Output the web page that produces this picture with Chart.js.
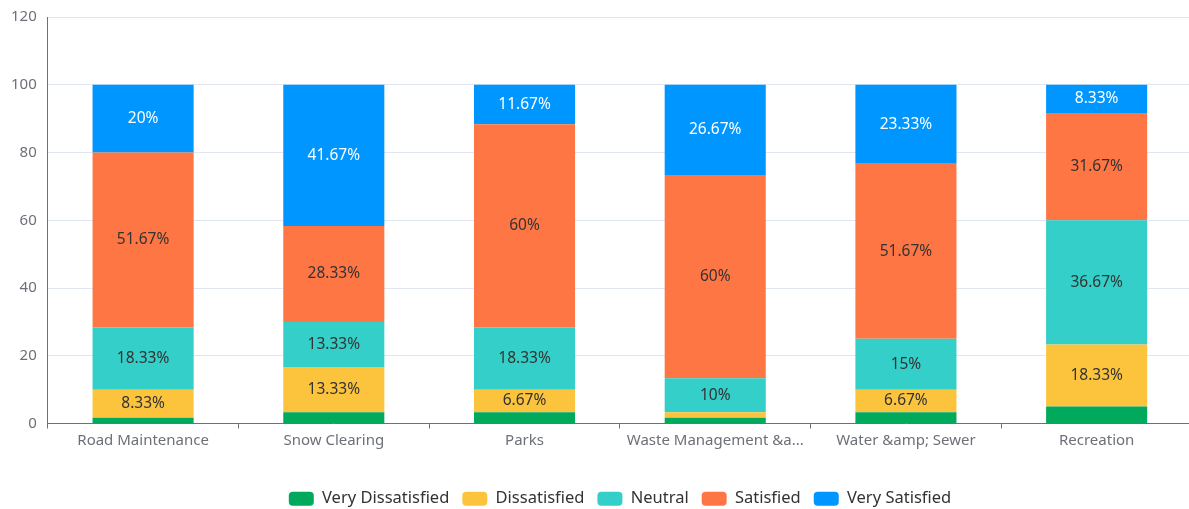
<!DOCTYPE html>
<html>
<head>
<meta charset="utf-8">
<script src="https://cdn.jsdelivr.net/npm/chart.js@4/dist/chart.umd.min.js"></script>
<style>
  html, body { margin: 0; padding: 0; background: #fff; overflow: hidden; }
  #wrap { width: 1189px; height: 509px; overflow: hidden; }
</style>
</head>
<body>
<div id="wrap"><canvas id="chart" width="1240" height="509"></canvas></div>
<script>
// categories (labels kept as shown on the chart)
const categories = ['Road Maintenance', 'Snow Clearing', 'Parks', 'Waste Management &a...', 'Water &amp; Sewer', 'Recreation'];

// percentage of answers per category
const veryDissatisfied = [1.67, 3.33, 3.33, 1.67, 3.33, 5];
const dissatisfied     = [8.33, 13.33, 6.67, 1.67, 6.67, 18.33];
const neutral          = [18.33, 13.33, 18.33, 10, 15, 36.67];
const satisfied        = [51.67, 28.33, 60, 60, 51.67, 31.67];
const verySatisfied    = [20, 41.67, 11.67, 26.67, 23.33, 8.33];

const yTicks = [0, 20, 40, 60, 80, 100, 120];

const axisGray = '#6E7079';
const fontFamily = '"Noto Sans", "Open Sans", sans-serif';

function ds(label, data, color, textColor) {
    return {
        label: label,
        data: data,
        backgroundColor: color,
        borderWidth: 0,
        textColor: textColor
    };
}

// draws the value in the middle of each segment (no datalabels plugin offline)
const segmentLabels = {
    id: 'segmentLabels',
    afterDatasetsDraw(chart) {
        const ctx = chart.ctx;
        ctx.save();
        ctx.font = '15.5px ' + fontFamily;
        ctx.textAlign = 'center';
        ctx.textBaseline = 'middle';
        chart.data.datasets.forEach(function(d, i) {
            const meta = chart.getDatasetMeta(i);
            meta.data.forEach(function(bar, j) {
                const v = d.data[j];
                if (v <= 5) return;
                ctx.fillStyle = d.textColor;
                ctx.fillText(v + '%', bar.x, (bar.y + bar.base) / 2);
            });
        });
        ctx.restore();
    }
};

// legend: a bit lower and centred on the whole canvas, not only the plot
const legendPlace = {
    id: 'legendPlace',
    beforeInit(chart) {
        const fit = chart.legend.fit;
        chart.legend.fit = function() {
            fit.bind(chart.legend)();
            this.height -= 8;
        };
    },
    afterLayout(chart) {
        chart.legend.left = 0;
        chart.legend.right = chart.width;
        chart.legend.width = chart.width;
    }
};

const chart = new Chart(document.getElementById('chart'), {
    type: 'bar',
    data: {
        labels: categories,
        datasets: [
            ds('Very Dissatisfied', veryDissatisfied, '#00A95C', '#333'),
            ds('Dissatisfied', dissatisfied, '#FCC43D', '#333'),
            ds('Neutral', neutral, '#33CFC8', '#333'),
            ds('Satisfied', satisfied, '#FF7645', '#333'),
            ds('Very Satisfied', verySatisfied, '#0096FF', '#fff')
        ]
    },
    options: {
        responsive: false,
        animation: false,
        devicePixelRatio: 1,
        categoryPercentage: 1,
        barPercentage: 0.53,
        layout: { padding: { top: 0, left: 0, right: 48, bottom: 0 } },
        scales: {
            x: {
                stacked: true,
                border: { display: true, color: axisGray, width: 1 },
                grid: { drawOnChartArea: false, drawTicks: true, tickLength: 5, color: axisGray },
                ticks: { color: axisGray, font: { family: fontFamily, size: 15 }, padding: 3, maxRotation: 0, autoSkip: false },
                afterFit: function(scale) { scale.height = 54; }
            },
            y: {
                stacked: true,
                min: 0,
                max: 120,
                afterBuildTicks: function(scale) { scale.ticks = yTicks.map(v => ({ value: v })); },
                border: { display: true, color: axisGray, width: 1 },
                grid: { color: '#E0E6F1', drawTicks: false },
                ticks: { color: axisGray, font: { family: fontFamily, size: 15, lineHeight: 0.8 }, padding: 11 }
            }
        },
        plugins: {
            tooltip: { enabled: false },
            legend: {
                position: 'bottom',
                labels: {
                    boxWidth: 25,
                    boxHeight: 14,
                    useBorderRadius: true,
                    borderRadius: 4,
                    padding: 13,
                    color: '#333',
                    font: { family: fontFamily, size: 16.5 }
                }
            }
        }
    },
    plugins: [segmentLabels, legendPlace]
});
</script>
</body>
</html>
